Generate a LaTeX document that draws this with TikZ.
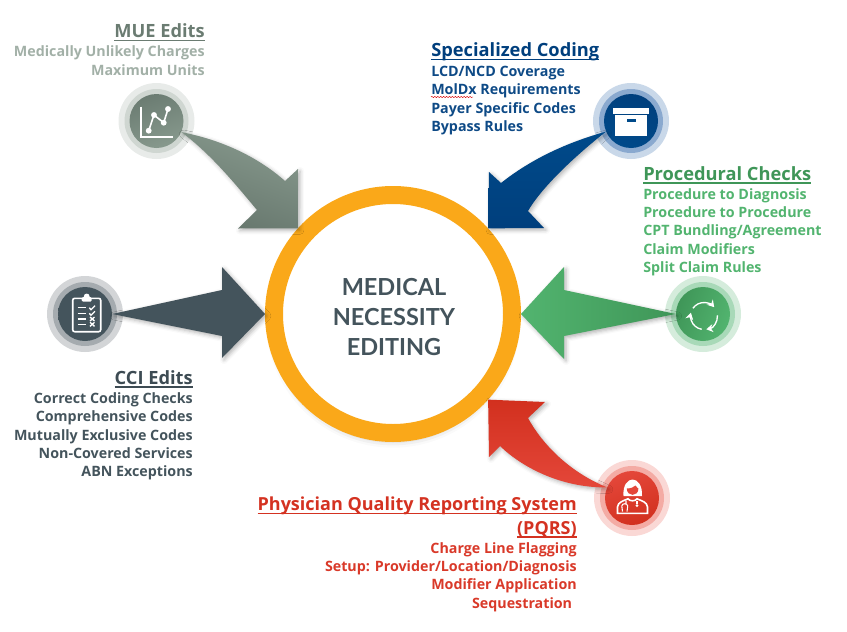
\documentclass[tikz,border=0pt]{standalone}
\usepackage{fontspec}
\setmainfont{Open Sans}
\newfontfamily\hubfont{Lato}
\usepackage{xcolor}
\usetikzlibrary{positioning,shadows.blur,arrows.meta,decorations.pathmorphing}

\definecolor{ringorange}{HTML}{FAA819}
\definecolor{slatetxt}{HTML}{44545C}
\definecolor{muedark}{HTML}{6B7C72}
\definecolor{mueglow}{HTML}{87998D}
\definecolor{muesub}{HTML}{A2B0A7}
\definecolor{navydark}{HTML}{003F7D}
\definecolor{navyglow}{HTML}{004A8A}
\definecolor{navysub}{HTML}{0E4A86}
\definecolor{greendark}{HTML}{3F9658}
\definecolor{greenglow}{HTML}{52B46F}
\definecolor{reddark}{HTML}{D2301E}
\definecolor{redglow}{HTML}{E4473A}

\newcommand{\headline}[1]{\setbox0\hbox{#1}\leavevmode\rlap{\rule[-2.7pt]{\wd0}{1.1pt}}\box0}

\begin{document}
\begin{tikzpicture}[
    x=0.75pt, y=-0.75pt,
    hub/.style={circle, draw=ringorange, line width=13.5pt, fill=white, minimum size=178.5pt, inner sep=0pt,
      blur shadow={shadow xshift=0pt, shadow yshift=-5pt, shadow blur radius=6pt, shadow opacity=30}},
    hubtext/.style={align=center, inner sep=0pt, font=\hubfont\bfseries\fontsize{17.6}{22.5}\selectfont, text=slatetxt},
    halo/.style={circle, minimum size=57pt, inner sep=0pt},
    midhalo/.style={circle, minimum size=48pt, inner sep=0pt},
    badge/.style={circle, minimum size=40.5pt, inner sep=0pt},
    blockarrow/.style={blur shadow={shadow xshift=1.5pt, shadow yshift=-1.5pt, shadow blur radius=3pt, shadow opacity=30}},
    head/.style={font=\bfseries\fontsize{13.7}{17.5}\selectfont, inner sep=0pt, align=right},
    sublist/.style={font=\bfseries\fontsize{10.7}{13.7}\selectfont, inner sep=0pt},
    icon/.style={white, line width=1.2pt}
  ]
    \useasboundingbox (0,0) rectangle (847,632);

    \node[hub] (hub) at (393,314) {};
    \node[hubtext] (hubtitle) at (394,317) {MEDICAL\\NECESSITY\\EDITING};

    % halos and badges
    \foreach \name/\px/\py/\outercol/\midcol/\leftcol/\rightcol/\ang in {
      mue/156.5/121/E8EBE9/CFD6D1/muedark/mueglow/20,
      spec/631/121/C9D8E9/8AA9CF/navyglow/navydark/160,
      cci/85/314/D3D5D7/A5ABAF/slatetxt/slatetxt/0,
      proc/703/314/D5ECDC/A8D9B8/greendark/greenglow/70,
      pqrs/632/498/FAD8D5/F4ABA4/redglow/reddark/20} {
      \definecolor{outertone}{HTML}{\outercol}
      \definecolor{midtone}{HTML}{\midcol}
      \node[halo, fill=outertone] (\name outer) at (\px,\py) {};
      \node[midhalo, fill=midtone] (\name mid) at (\px,\py) {};
      \node[badge, shade, left color=\leftcol, right color=\rightcol, shading angle=\ang] (\name) at (\px,\py) {};
    }

    % block arrows
    \shade[blockarrow, top color=mueglow, bottom color=muedark!95!black, shading angle=-20]
      (mue.-24) .. controls (222,140) and (258,157) .. (285,181) -- (298,169) -- (hub.138)
      -- (238,228.5) -- (257,210) .. controls (236,185) and (212,155) .. (mue.-24) -- cycle;
    \shade[blockarrow, top color=navyglow, bottom color=navydark]
      (spec.-157) .. controls (565,143) and (530,160) .. (501,183) -- (489,172) -- (hub.42)
      -- (544,228) -- (528,211) .. controls (540,190) and (570,160) .. (spec.-157) -- cycle;
    \fill[blockarrow, slatetxt]
      (cci.0) -- (222,290) -- (222,267) -- (hub.180) -- (222,358) -- (222,336) -- cycle;
    \shade[blockarrow, left color=greenglow, right color=greendark]
      (proc.180) -- (564,290) -- (564,267) -- (hub.0) -- (564,359) -- (564,336) -- cycle;
    \shade[blockarrow, top color=reddark, bottom color=redglow]
      (pqrs.157) .. controls (565,470) and (540,440) .. (528,418) -- (545,402) -- (hub.-42)
      -- (489,457) -- (500,446) .. controls (525,470) and (565,488) .. (pqrs.157) -- cycle;

    % headings and their lists
    \node[head, text=muedark, anchor=base east] (muehead) at (205,37.7) {\headline{MUE Edits}};
    \node[sublist, text=muesub, align=right, below=6.1pt of muehead.base east, anchor=north east] (muelist) {Medically Unlikely Charges\\Maximum Units};
    \node[head, text=navydark, anchor=base west] (spechead) at (431,56.7) {\headline{Specialized Coding}};
    \node[sublist, text=navysub, align=left, below=7pt of spechead.base west, anchor=north west] (speclist) {LCD/NCD Coverage\\MolDx Requirements\\Payer Specific Codes\\Bypass Rules};
    \node[head, text=greendark, anchor=base west] (prochead) at (643,180) {\headline{Procedural Checks}};
    \node[sublist, text=greenglow, align=left, below=6.1pt of prochead.base west, anchor=north west] (proclist) {Procedure to Diagnosis\\Procedure to Procedure\\CPT Bundling/Agreement\\Claim Modifiers\\Split Claim Rules};
    \node[head, text=slatetxt!90!black, anchor=base east] (ccihead) at (193,384.3) {\headline{CCI Edits}};
    \node[sublist, text=slatetxt, align=right, below=6.1pt of ccihead.base east, anchor=north east] (ccilist) {Correct Coding Checks\\Comprehensive Codes\\Mutually Exclusive Codes\\Non-Covered Services\\ABN Exceptions};
    \node[head, font=\bfseries\fontsize{13.5}{17.5}\selectfont, text=reddark!90!redglow, anchor=base east] (pqrshead) at (577,534) {\headline{Physician Quality Reporting System}\\\headline{(PQRS)}};
    \node[sublist, text=reddark!60!redglow, align=right, below=6.1pt of pqrshead.base east, anchor=north east] (pqrslist) {Charge Line Flagging\\Setup: Provider/Location/Diagnosis\\Modifier Application\\Sequestration\hspace*{3.5pt}};
    \draw[red!85!black, line width=.35pt, decorate, decoration={snake, amplitude=.45pt, segment length=2.2pt}] (431,97) -- (473,97);

    % chart icon
    \draw[icon, line width=1.4pt] (141.3,106.7) -- (141.3,137.3) -- (172.7,137.3);
    \draw[icon] (148.7,130.7) -- (154,115) -- (163.7,122.7) -- (168,109);
    \foreach \dotx/\doty in {148.7/130.7, 154/115, 163.7/122.7, 168/109}
      \fill[white] (\dotx,\doty) circle (2.2pt);

    % box icon
    \fill[white] (613.3,108.3) rectangle (648.7,114);
    \fill[white] (615,115.3) rectangle (647.3,136);
    \fill[navyglow] (626.7,119.3) rectangle (635.7,122.3);

    % clipboard icon
    \draw[icon, rounded corners=1.5pt] (72.7,298.3) rectangle (100.7,331.7);
    \fill[white, rounded corners=1pt] (81.7,297) rectangle (91.7,301.7);
    \fill[white] (86.7,296.5) circle (2.2pt);
    \foreach \rowy in {307.7,313.3,319,324.3}
      \draw[icon, line width=1pt] (77.7,\rowy) -- (86,\rowy);
    \foreach \rowy in {307.7,313.3}
      \draw[icon, line width=1pt] (89.3,\rowy) -- (91,\rowy+2) -- (95,\rowy-2);
    \foreach \rowy in {319,324.3}
      \draw[icon, line width=1pt] (90,\rowy-2) -- (94.5,\rowy+2) (94.5,\rowy-2) -- (90,\rowy+2);

    % cycle icon
    \foreach \arcfrom/\arcto in {-145/-41, -3/80, 100/194}
      \draw[icon, line width=1pt, -{Stealth[length=5pt,width=6pt]}] (704,316) ++(\arcfrom:13.5) arc[start angle=\arcfrom, end angle=\arcto, radius=13.5];

    % doctor icon
    \fill[white] (623.5,496) .. controls (622,474) and (643,474) .. (642,496) -- cycle;
    \fill[redglow] (626.8,488.5) .. controls (631,488.5) and (634,487) .. (635.5,485.5) .. controls (636.5,487.5) and (638,488) .. (638.4,488.5)
      .. controls (638.4,497) and (626.8,497) .. (626.8,488.5) -- cycle;
    \draw[icon] (617.5,513.3) -- (617.5,507) .. controls (618,502) and (623,501) .. (628,498.8)
      .. controls (630,501.5) and (635,501.5) .. (637,498.8) .. controls (642,501) and (647,502) .. (647.5,507) -- (647.5,513.3) -- cycle;
    \draw[icon, line width=.8pt] (626,500.5) -- (626,503.5) (622.5,511.5) -- (621.8,506) .. controls (622,503) and (627.5,503) .. (627.7,506) -- (627,511.5);
    \draw[icon, line width=.8pt] (637,500.5) -- (637,504);
    \fill[white] (637,505.6) circle (1.2pt);
  \end{tikzpicture}
\end{document}
